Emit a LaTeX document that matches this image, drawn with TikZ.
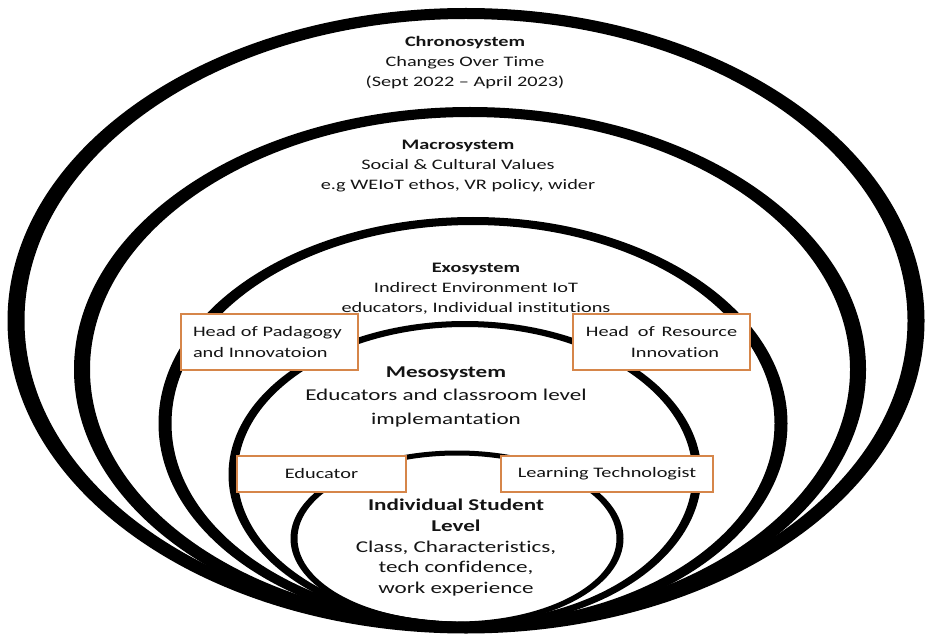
\documentclass[tikz,border=0pt]{standalone}
\usepackage{fontspec}
\setmainfont{Carlito}[FakeStretch=1.4, Ligatures=NoCommon]
\definecolor{boxorange}{RGB}{214,134,74}
\definecolor{txt}{RGB}{20,20,20}
\newcommand\ringE[6]{\fill[black,even odd rule] (#1,#2) ellipse [x radius=#3+#5, y radius=#4+#6] (#1,#2) ellipse [x radius=#3-#5, y radius=#4-#6];}
\begin{document}
\begin{tikzpicture}[x=1pt,y=-1pt,
  small/.style={font=\fontsize{14.5}{20}\selectfont, text=txt, inner sep=0pt, anchor=base},
  large/.style={font=\fontsize{16.5}{23}\selectfont, text=txt, inner sep=0pt, anchor=base},
  obox/.style={draw=boxorange, line width=2.5pt, fill=white, inner sep=0pt, text=txt,
               font=\fontsize{14.5}{21}\selectfont}
]
\useasboundingbox (0,0) rectangle (933,636);
% nested rings
\ringE{466}{320.75}{450}{307.25}{8.5}{5.5}
\ringE{470}{369.5}{388}{257.5}{8}{5}
\ringE{473}{423.5}{308}{202.5}{6.5}{4}
\ringE{465}{474.5}{232}{150.5}{4.5}{3}
\ringE{457}{538.5}{163}{85.5}{3.5}{2.5}
% boxes
\node[obox, minimum width=177pt, minimum height=56pt, text width=153pt, align=left] (hp) at (269.5,342) {Head of Padagogy\\and Innovatoion};
\node[obox, minimum width=177pt, minimum height=56pt, text width=153pt, align=center] (hr) at (661.5,342) {Head\hspace{4pt} of\hspace{2pt} Resource\\\hspace*{27pt}Innovation};
\node[obox, minimum width=169pt, minimum height=36pt] (ed) at (321.5,474) {Educator};
\node[obox, minimum width=212pt, minimum height=36pt] (lt) at (607,474) {Learning Technologist};
% chronosystem
\node[small] (c1) at (465,47) {\textbf{Chronosystem}};
\node[small] (c2) at (465,67) {Changes Over Time};
\node[small] (c3) at (465,87) {(Sept 2022 – April 2023)};
% macrosystem
\node[small] (m1) at (458,150) {\textbf{Macrosystem}};
\node[small] (m2) at (458,170) {Social \& Cultural Values};
\node[small] (m3) at (458,190) {e.g WEIoT ethos, VR policy, wider};
% exosystem
\node[small] (e1) at (476,272) {\textbf{Exosystem}};
\node[small] (e2) at (476,292) {Indirect Environment IoT};
\node[small] (e3) at (476,312) {educators, Individual institutions};
% mesosystem
\node[large] (s1) at (446,377) {\textbf{Mesosystem}};
\node[large] (s2) at (446,400) {Educators and classroom level};
\node[large] (s3) at (446,424) {implemantation};
% individual
\node[large] (i1) at (456,510) {\textbf{Individual Student}};
\node[large] (i2) at (456,531) {\textbf{Level}};
\node[large] (i3) at (456,552) {Class, Characteristics,};
\node[large] (i4) at (456,572) {tech confidence,};
\node[large] (i5) at (456,593) {work experience};
\end{tikzpicture}
\end{document}
